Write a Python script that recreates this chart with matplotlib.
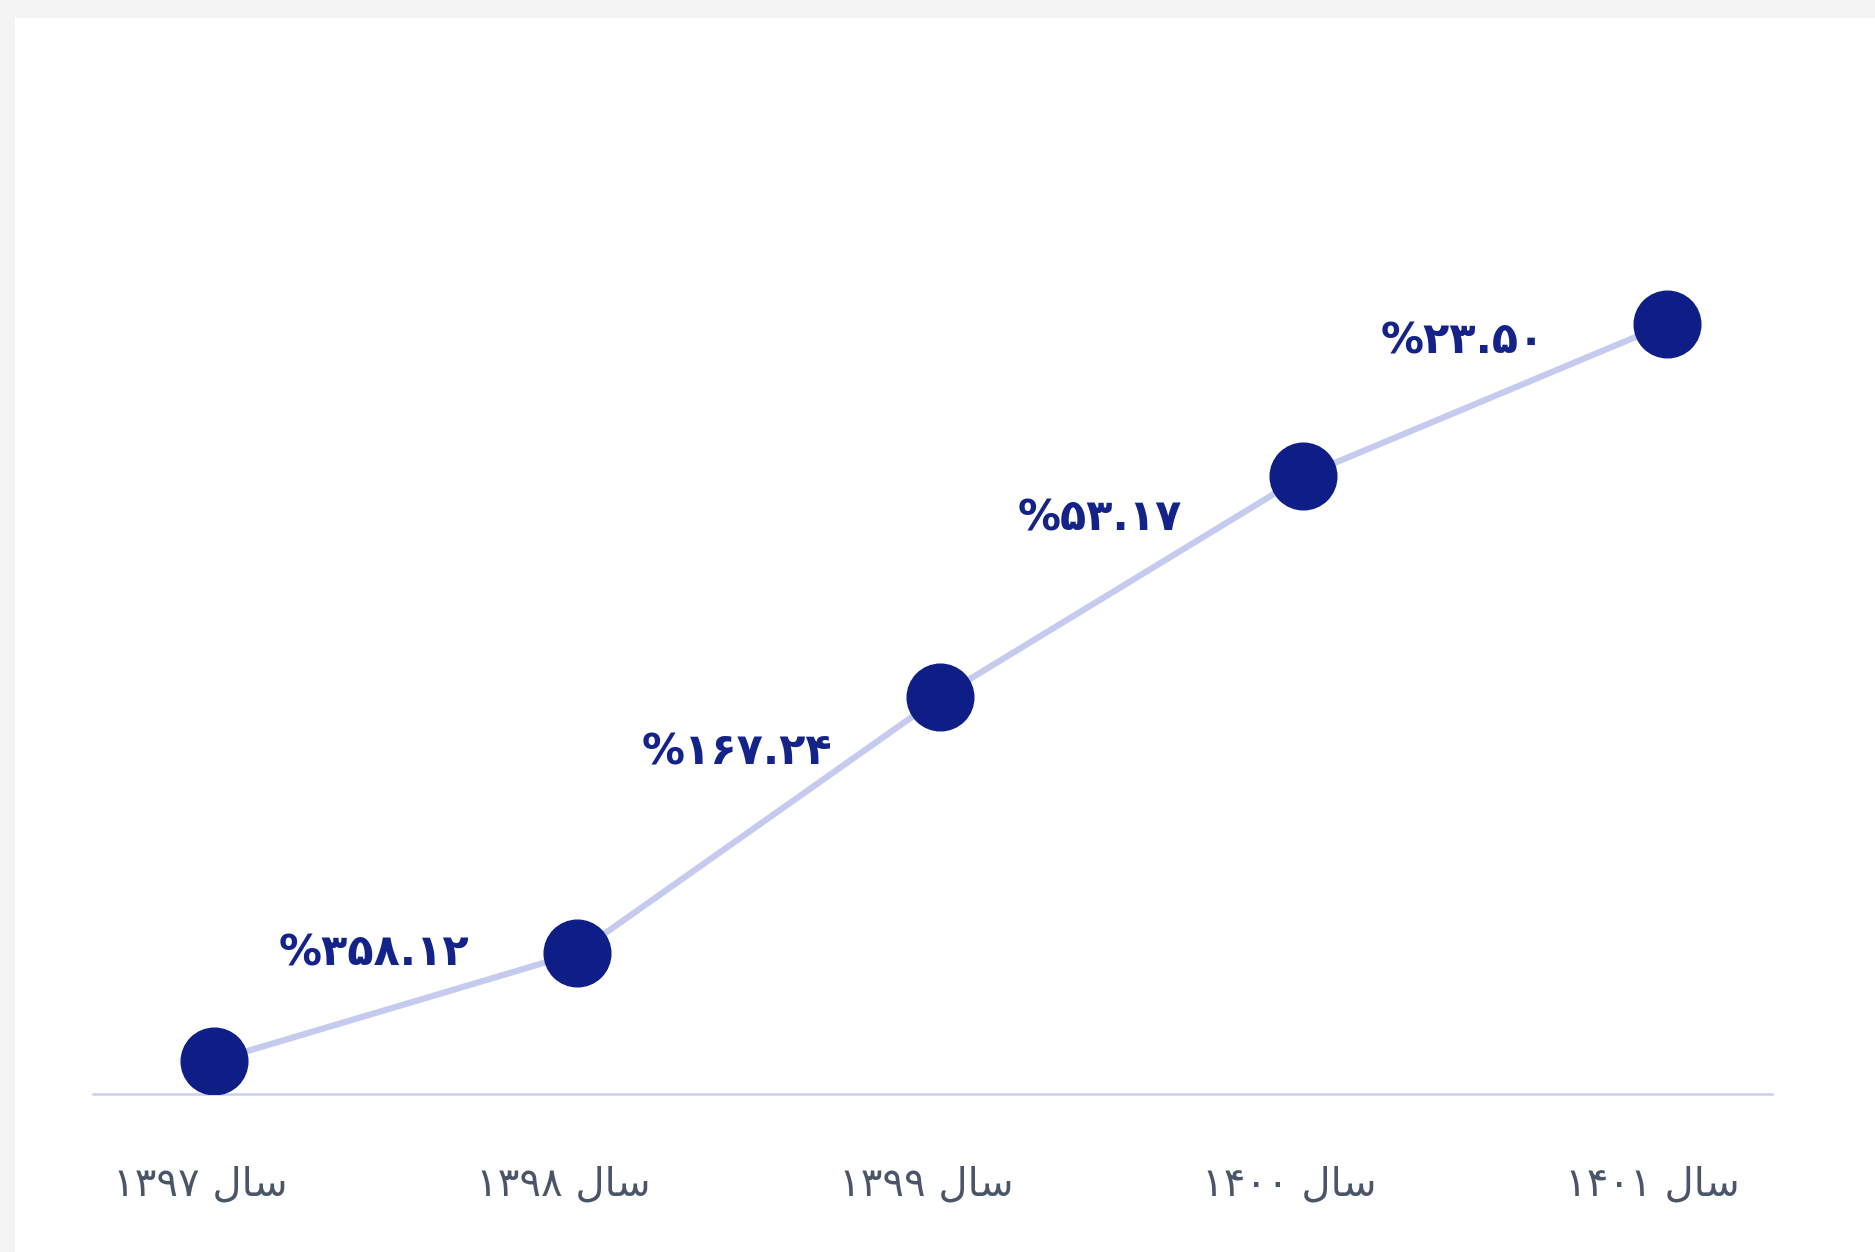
import matplotlib
matplotlib.use("Agg")
import matplotlib.pyplot as plt
from matplotlib.patches import Rectangle
import matplotlib.transforms as mtransforms

# Data (heights relative to baseline)
years = ["۱۳۹۷", "۱۳۹۸", "۱۳۹۹", "۱۴۰۰", "۱۴۰۱"]
values = [33, 141, 397, 618, 770]
growth_labels = ["%۳۵۸.۱۲", "%۱۶۷.۲۴", "%۵۳.۱۷", "%۲۳.۵۰"]
# "سال" written in visual (left-to-right) order with presentation forms
SAL = "\uFEDD\uFE8E\uFEB3"
tick_labels = [f"{y} {SAL}" for y in years]

W, H, DPI = 1875, 1252, 100
fig = plt.figure(figsize=(W / DPI, H / DPI), dpi=DPI)
fig.patch.set_facecolor("white")
# card border / shadow
fig.add_artist(Rectangle((0, 1 - 18 / H), 1, 18 / H, transform=fig.transFigure,
                         facecolor="#f4f4f4", edgecolor="none", zorder=0))
fig.add_artist(Rectangle((0, 0), 15 / W, 1, transform=fig.transFigure,
                         facecolor="#f4f4f4", edgecolor="none", zorder=0))

ax = fig.add_axes([93 / W, (H - 1094) / H, (1772 - 93) / W, (1094 - 100) / H])
ax.set_facecolor("none")
ax.set_xlim(-0.333, 4.29)
ax.set_ylim(0, 994)
x = list(range(len(years)))
ax.plot(x, values, color="#c5cbee", lw=4.5, zorder=2, solid_capstyle="round")
ax.plot(x, values, linestyle="none", marker="o", markersize=48,
        markerfacecolor="#0f1e86", markeredgecolor="#0f1e86", zorder=3)

for i, lab in enumerate(growth_labels):
    mx = (x[i] + x[i + 1]) / 2
    my = (values[i] + values[i + 1]) / 2
    p0 = ax.transData.transform((x[i], values[i]))
    p1 = ax.transData.transform((x[i + 1], values[i + 1]))
    slope = (p1[1] - p0[1]) / (p1[0] - p0[0])
    dy = (33 + 39 * slope) * 1.196
    ax.annotate(lab, (mx, my), xytext=(-22, dy), textcoords="offset pixels",
                ha="center", va="center", fontsize=31, fontweight="bold",
                color="#14238a", family=["DejaVu Sans"], zorder=4)

ax.set_yticks([])
ax.set_xticks(x)
ax.set_xticklabels(tick_labels, fontsize=29, color="#4a5568", family=["DejaVu Sans"])
ax.tick_params(axis="x", length=0, pad=51)
offset = mtransforms.ScaledTranslation(-14 / DPI, 0, fig.dpi_scale_trans)
for t in ax.get_xticklabels():
    t.set_transform(t.get_transform() + offset)
for s in ["top", "right", "left"]:
    ax.spines[s].set_visible(False)
ax.spines["bottom"].set_color("#c9d0f0")
ax.spines["bottom"].set_linewidth(1.8)

fig.savefig("out.png", dpi=DPI, facecolor=fig.get_facecolor())
